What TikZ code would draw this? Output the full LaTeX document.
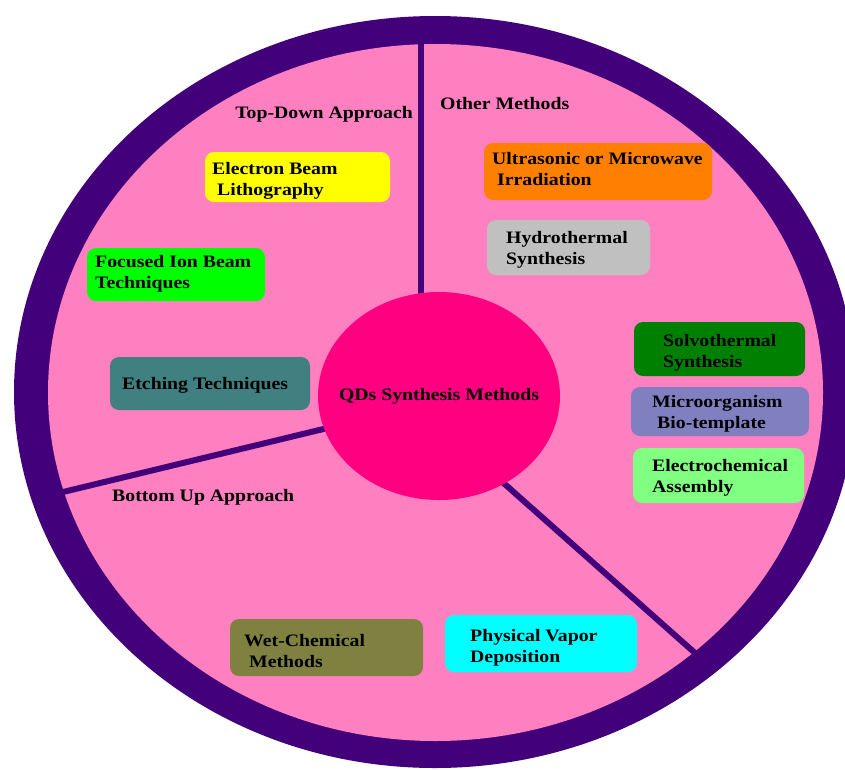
\documentclass[tikz,border=0pt]{standalone}
\usepackage{fontspec}
\setmainfont{Liberation Serif}[FakeStretch=1.13]
\usetikzlibrary{shapes.geometric}
\definecolor{ringpurple}{RGB}{66,0,122}
\definecolor{bgpink}{RGB}{255,128,192}
\definecolor{qdmagenta}{RGB}{255,0,128}
\definecolor{cYellow}{RGB}{255,255,0}
\definecolor{cGreen}{RGB}{0,255,0}
\definecolor{cTeal}{RGB}{64,128,128}
\definecolor{cOrange}{RGB}{255,128,0}
\definecolor{cGrey}{RGB}{192,192,192}
\definecolor{cDarkGreen}{RGB}{0,128,0}
\definecolor{cLavender}{RGB}{128,128,192}
\definecolor{cLightGreen}{RGB}{128,255,128}
\definecolor{cOlive}{RGB}{128,128,64}
\definecolor{cCyan}{RGB}{0,255,255}
\tikzset{
  methodbox/.style={rectangle, rounded corners=9pt, draw=none, inner sep=0pt},
  boxtext/.style={anchor=base west, align=left, inner sep=0pt, font=\bfseries\fontsize{17.5}{21}\selectfont},
  lbltext/.style={inner sep=0pt, font=\bfseries\fontsize{17.5}{21}\selectfont},
  divider/.style={draw=ringpurple, line width=6pt}
}
\begin{document}
\begin{tikzpicture}[x=1pt,y=-1pt]
\clip (0,0) rectangle (845,769);
\fill[white] (0,0) rectangle (845,769);
% ring and background
\fill[ringpurple] (435,392) ellipse [x radius=421pt, y radius=376pt];
\fill[bgpink] (435.5,392.5) ellipse [x radius=387.5pt, y radius=348.5pt];
% dividers
\coordinate (vtop) at (420.5,44);
\coordinate (vbot) at (420.5,310);
\coordinate (lout) at (63,492);
\coordinate (lin) at (340,425);
\coordinate (rin) at (490,471);
\coordinate (rout) at (695,653);
\draw[divider] (vtop) -- (vbot);
\draw[divider] (lout) -- (lin);
\draw[divider] (rin) -- (rout);
% centre
\node[ellipse, fill=qdmagenta, minimum width=242pt, minimum height=208pt, inner sep=0pt] (qd) at (439,396) {};
\node[lbltext, anchor=base] (qdt) at (439,400) {QDs Synthesis Methods};
% section labels
\node[lbltext, anchor=base east] (td) at (413,118) {Top-Down Approach};
\node[lbltext, anchor=base west] (om) at (440,109) {Other Methods};
\node[lbltext, anchor=base west] (bu) at (112,501) {Bottom Up Approach};
% boxes (multi-line text: anchor is baseline of last line)
\node[methodbox, fill=cYellow, minimum width=185pt, minimum height=50pt] (eb) at (297.5,177) {};
\node[boxtext] (ebt) at (212,195) {Electron Beam\\\hspace*{5pt}Lithography};
\node[methodbox, fill=cGreen, minimum width=178pt, minimum height=53pt] (fib) at (176,274.5) {};
\node[boxtext] (fibt) at (95,288) {Focused Ion Beam\\Techniques};
\node[methodbox, fill=cTeal, minimum width=200pt, minimum height=53pt] (et) at (210,383.5) {};
\node[boxtext] (ett) at (122,389.5) {Etching Techniques};
\node[methodbox, fill=cOrange, minimum width=228pt, minimum height=57pt] (um) at (598,171.5) {};
\node[boxtext] (umt) at (492,185) {Ultrasonic or Microwave\\\hspace*{5pt}Irradiation};
\node[methodbox, fill=cGrey, minimum width=163pt, minimum height=55pt] (hy) at (568.5,247.5) {};
\node[boxtext] (hyt) at (506,264) {Hydrothermal\\Synthesis};
\node[methodbox, fill=cDarkGreen, minimum width=171pt, minimum height=54pt] (so) at (719.5,349) {};
\node[boxtext] (sot) at (663,367) {Solvothermal\\Synthesis};
\node[methodbox, fill=cLavender, minimum width=178pt, minimum height=49pt] (mi) at (720,411.5) {};
\node[boxtext] (mit) at (652,428) {Microorganism\\\hspace*{5pt}Bio-template};
\node[methodbox, fill=cLightGreen, minimum width=171pt, minimum height=55pt] (ec) at (718.5,475.5) {};
\node[boxtext] (ect) at (652,492) {Electrochemical\\Assembly};
\node[methodbox, fill=cOlive, minimum width=193pt, minimum height=57pt] (wc) at (326.5,647.5) {};
\node[boxtext] (wct) at (244,667) {Wet-Chemical\\\hspace*{5pt}Methods};
\node[methodbox, fill=cCyan, minimum width=192pt, minimum height=57pt] (pv) at (541,643.5) {};
\node[boxtext] (pvt) at (470,662) {Physical Vapor\\Deposition};
\end{tikzpicture}
\end{document}
